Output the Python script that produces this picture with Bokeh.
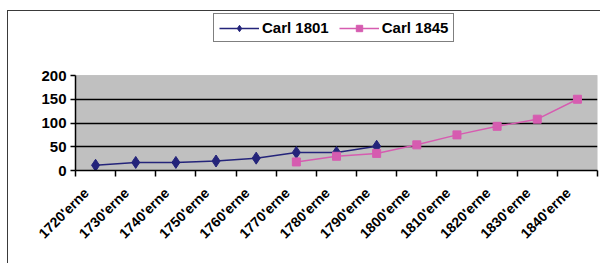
from bokeh.plotting import figure
from bokeh.models import (FixedTicker, Legend, LegendItem, Range1d, BoxAnnotation,
                          CustomJSTickFormatter)
from bokeh.embed import file_html
from bokeh.resources import INLINE
import math

decades = ["1720'erne", "1730'erne", "1740'erne", "1750'erne", "1760'erne",
           "1770'erne", "1780'erne", "1790'erne", "1800'erne", "1810'erne",
           "1820'erne", "1830'erne", "1840'erne"]

carl1801_decades = ["1720'erne", "1730'erne", "1740'erne", "1750'erne",
                    "1760'erne", "1770'erne", "1780'erne", "1790'erne"]
carl1801_values = [11, 17, 17, 20, 26, 38, 38, 51]

carl1845_decades = ["1770'erne", "1780'erne", "1790'erne", "1800'erne",
                    "1810'erne", "1820'erne", "1830'erne", "1840'erne"]
carl1845_values = [18, 30, 36, 54, 75, 93, 108, 150]

y_ticks = [0, 50, 100, 150, 200]
Y_MAX = 200

NAVY = "#24247A"
PINK = "#D65CB0"
FONT = "Liberation Sans"

# layout (pixels)
W, H = 600, 263
FRAME_BOTTOM = 170
PLOT_TOP = 75          # where the value 200 sits
frame_h = FRAME_BOTTOM
y_end = Y_MAX * frame_h / (FRAME_BOTTOM - PLOT_TOP)


def xpos(labels):
    return [decades.index(d) + 0.5 for d in labels]


p = figure(width=W, height=H, output_backend="svg", toolbar_location=None,
           x_range=Range1d(0, len(decades)), y_range=Range1d(0, y_end),
           min_border_left=75, min_border_right=3, min_border_top=0,
           min_border_bottom=H - FRAME_BOTTOM)

# outer chart border drawn as CSS background behind a transparent canvas
p.styles = {
    "background": "linear-gradient(#3a3a3a,#3a3a3a) 7px 10px / 1px 100% no-repeat, "
                  "linear-gradient(#3a3a3a,#3a3a3a) 7px 10px / 100% 1px no-repeat, white"
}
p.background_fill_alpha = 0
p.border_fill_alpha = 0
p.outline_line_color = None

# plot area (grey) from 0 to 200
area = BoxAnnotation(bottom=0, top=Y_MAX, fill_color="#C0C0C0", fill_alpha=1,
                     line_color="#808080", line_width=1, level="image")
p.add_layout(area)

# grid
p.xgrid.visible = False
p.ygrid.ticker = FixedTicker(ticks=y_ticks[1:-1])
p.ygrid.grid_line_color = "black"
p.ygrid.grid_line_width = 1.5

# x axis: ticks at category boundaries, labels below each category
xa = p.xaxis[0]
xa.ticker = FixedTicker(ticks=[i + 0.27 for i in range(len(decades))],
                        minor_ticks=list(range(len(decades) + 1)))
xa.formatter = CustomJSTickFormatter(args=dict(labels=decades),
                                     code="const i = Math.floor(tick); return labels[i] || '';")
xa.major_tick_out = 0
xa.major_tick_in = 0
xa.minor_tick_out = 6
xa.minor_tick_in = 0
xa.minor_tick_line_color = "black"
xa.minor_tick_line_width = 1.5
xa.axis_line_color = "black"
xa.axis_line_width = 1.5
xa.major_label_orientation = math.pi / 4
xa.major_label_text_font = FONT
xa.major_label_text_font_style = "bold"
xa.major_label_text_font_size = "14px"
xa.major_label_text_color = "black"
xa.major_label_standoff = 14

ya = p.yaxis[0]
ya.ticker = FixedTicker(ticks=y_ticks)
ya.bounds = (0, Y_MAX)
ya.minor_tick_line_color = None
ya.major_tick_out = 5
ya.major_tick_in = 0
ya.major_tick_line_color = "black"
ya.major_tick_line_width = 1.5
ya.axis_line_color = "black"
ya.axis_line_width = 1.5
ya.major_label_text_font = FONT
ya.major_label_text_font_style = "bold"
ya.major_label_text_font_size = "15px"
ya.major_label_text_color = "black"
ya.major_label_standoff = 4

# series
l1 = p.line(xpos(carl1801_decades), carl1801_values, line_color=NAVY, line_width=1.5)
s1 = p.scatter(xpos(carl1801_decades), carl1801_values, marker="diamond", size=12,
               fill_color=NAVY, line_color=NAVY)
l2 = p.line(xpos(carl1845_decades), carl1845_values, line_color=PINK, line_width=1.5)
s2 = p.scatter(xpos(carl1845_decades), carl1845_values, marker="square", size=8,
               fill_color=PINK, line_color=PINK)

legend = Legend(items=[LegendItem(label="Carl 1801", renderers=[l1, s1]),
                       LegendItem(label="Carl 1845", renderers=[l2, s2])],
                orientation="horizontal", location=(138, FRAME_BOTTOM - 42))
legend.border_line_color = "black"
legend.border_line_width = 1.5
legend.background_fill_color = "white"
legend.background_fill_alpha = 1
legend.label_text_font = FONT
legend.label_text_font_style = "bold"
legend.label_text_font_size = "15px"
legend.label_text_color = "black"
legend.glyph_width = 40
legend.glyph_height = 16
legend.label_standoff = 3
legend.spacing = 10
legend.padding = 5
legend.margin = 0
p.add_layout(legend, "center")

open("out.html", "w").write(file_html(p, INLINE))
